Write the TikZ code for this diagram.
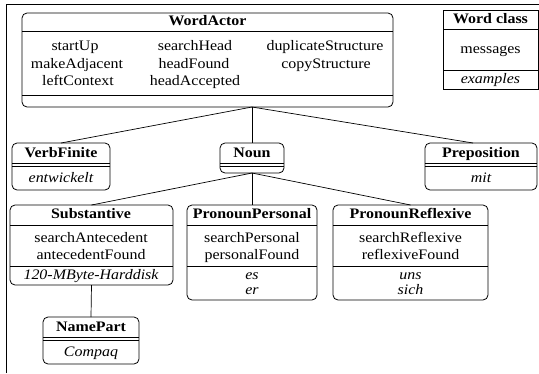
\documentclass[tikz,border=0pt]{standalone}
\usepackage{fontspec}
\setmainfont[FakeStretch=1.1]{Liberation Serif}
\begin{document}
\begin{tikzpicture}[x=1pt,y=-1pt,
  box/.style={draw, rounded corners=5pt, line width=0.8pt, inner sep=0pt, outer sep=0pt, anchor=north west},
  sbox/.style={draw, line width=0.8pt, inner sep=0pt, outer sep=0pt, anchor=north west},
  base/.style={inner sep=0pt, text height=10pt, text depth=3pt, font=\fontsize{14.5}{16}\selectfont},
  ttl/.style={base, font=\fontsize{14.5}{16}\selectfont\bfseries},
  txt/.style={base},
  itx/.style={base, font=\fontsize{14.5}{16}\selectfont\itshape},
  sep/.style={line width=0.8pt},
  conn/.style={line width=0.7pt}]
\useasboundingbox (0,0) rectangle (539,373);
% outer frame
\draw[line width=0.9pt] (6,373) -- (6,4) -- (539,4);

% WordActor
\node[box, minimum width=371pt, minimum height=94pt] (wa) at (22,13) {};
\node[ttl] (waT) at (207.5,22) {WordActor};
\draw[sep] (22,31) -- (393,31);
\node[txt] (wa1) at (75,47) {startUp};
\node[txt] (wa2) at (77,65) {makeAdjacent};
\node[txt] (wa3) at (78,82) {leftContext};
\node[txt] (wa4) at (195,47) {searchHead};
\node[txt] (wa5) at (194,65) {headFound};
\node[txt] (wa6) at (195,82) {headAccepted};
\node[txt] (wa7) at (325,47) {duplicateStructure};
\node[txt] (wa8) at (326,65) {copyStructure};
\draw[sep] (22,95) -- (393,95);

% Word class legend
\node[sbox, minimum width=95pt, minimum height=79pt] (wc) at (443,10) {};
\node[ttl] (wcT) at (490.5,20) {Word class};
\draw[sep] (443,29) -- (538,29);
\node[txt] (wcM) at (490.5,50) {messages};
\draw[sep] (443,70) -- (538,70);
\node[itx] (wcE) at (490.5,80) {examples};

% VerbFinite
\node[box, minimum width=98pt, minimum height=47pt] (vf) at (12,143) {};
\node[ttl] (vfT) at (61,154) {VerbFinite};
\draw[sep] (12,163) -- (110,163);
\draw[sep] (12,166) -- (110,166);
\node[itx] (vfE) at (61,179) {entwickelt};

% Noun
\node[box, minimum width=64pt, minimum height=30pt] (noun) at (220,143) {};
\node[ttl] (nounT) at (252,154) {Noun};
\draw[sep] (220,163) -- (284,163);
\draw[sep] (220,166) -- (284,166);

% Preposition
\node[box, minimum width=112pt, minimum height=47pt] (prep) at (425,143) {};
\node[ttl] (prepT) at (481,154) {Preposition};
\draw[sep] (425,163) -- (537,163);
\draw[sep] (425,166) -- (537,166);
\node[itx] (prepE) at (481,179) {mit};

% Substantive
\node[box, minimum width=163pt, minimum height=80pt] (sub) at (10,205) {};
\node[ttl] (subT) at (91,215) {Substantive};
\draw[sep] (10,225) -- (173,225);
\node[txt] (sub1) at (91,239) {searchAntecedent};
\node[txt] (sub2) at (91,256) {antecedentFound};
\draw[sep] (10,266) -- (173,266);
\node[itx] (subE) at (91,276) {120-MByte-Harddisk};

% PronounPersonal
\node[box, minimum width=130pt, minimum height=95pt] (pp) at (187,205) {};
\node[ttl] (ppT) at (252,215) {PronounPersonal};
\draw[sep] (187,225) -- (317,225);
\node[txt] (pp1) at (252,239) {searchPersonal};
\node[txt] (pp2) at (252,256) {personalFound};
\draw[sep] (187,266) -- (317,266);
\node[itx] (ppE1) at (252,276) {es};
\node[itx] (ppE2) at (252,291) {er};

% PronounReflexive
\node[box, minimum width=155pt, minimum height=95pt] (pr) at (333,205) {};
\node[ttl] (prT) at (410.5,215) {PronounReflexive};
\draw[sep] (333,225) -- (488,225);
\node[txt] (pr1) at (410.5,239) {searchReflexive};
\node[txt] (pr2) at (410.5,256) {reflexiveFound};
\draw[sep] (333,266) -- (488,266);
\node[itx] (prE1) at (410.5,276) {uns};
\node[itx] (prE2) at (410.5,291) {sich};

% NamePart
\node[box, minimum width=96pt, minimum height=47pt] (np) at (43,317) {};
\node[ttl] (npT) at (91,328) {NamePart};
\draw[sep] (43,337) -- (139,337);
\draw[sep] (43,340) -- (139,340);
\node[itx] (npE) at (91,353) {Compaq};

% connectors
\coordinate (hubA) at (noun.north |- wa.south);
\draw[conn] (hubA) -- (vf.north);
\draw[conn] (hubA) -- (noun.north);
\draw[conn] (hubA) -- ([xshift=-8pt]prep.north);
\draw[conn] (noun.south) -- (sub.north);
\draw[conn] (noun.south) -- (pp.north);
\draw[conn] (noun.south) -- (pr.north);
\draw[conn] (sub.south) -- (np.north);
\end{tikzpicture}
\end{document}
